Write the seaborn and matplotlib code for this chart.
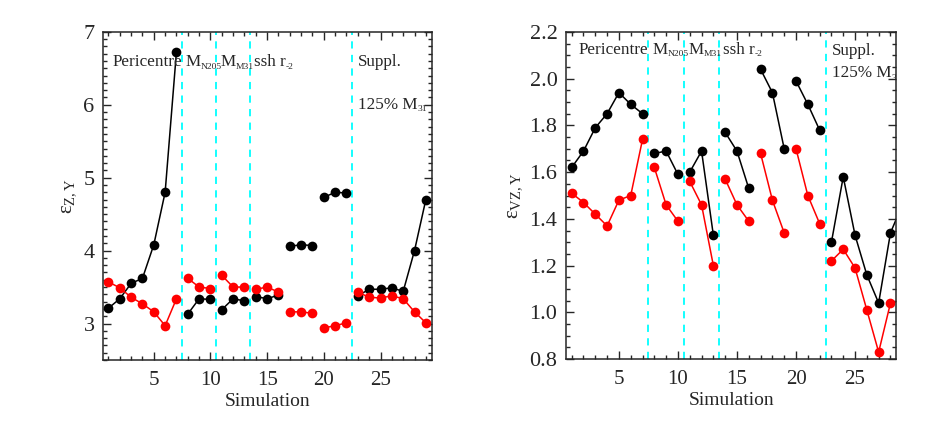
import numpy as np
import pandas as pd
import matplotlib
matplotlib.use("Agg")
import matplotlib.pyplot as plt
from matplotlib.ticker import MultipleLocator, FormatStrFormatter
import seaborn as sns

sns.set_style("ticks")
plt.rcParams["font.family"] = ["Liberation Serif", "DejaVu Serif"]
plt.rcParams["mathtext.fontset"] = "custom"
plt.rcParams["mathtext.rm"] = "Liberation Serif"
plt.rcParams["mathtext.it"] = "Liberation Serif:italic"

# simulation number and the run group each one belongs to
sims = list(range(1, 30))
groups = [1] * 7 + [2] * 3 + [3] * 3 + [4] * 3 + [5] * 3 + [6] * 3 + [7] * 7
group_edges = [7.5, 10.5, 13.5, 22.5]

# left panel: epsilon_Z,Y
eps_z_black = [3.21, 3.34, 3.55, 3.62, 4.08, 4.80, 6.73,
               3.13, 3.34, 3.33,
               3.19, 3.34, 3.31,
               3.37, 3.34, 3.39,
               4.06, 4.08, 4.07,
               4.73, 4.80, 4.79,
               3.38, 3.47, 3.47, 3.49, 3.44, 4.00, 4.70]
eps_z_red = [3.57, 3.49, 3.36, 3.27, 3.16, 2.97, 3.34,
             3.62, 3.50, 3.48,
             3.66, 3.50, 3.50,
             3.47, 3.50, 3.43,
             3.16, 3.16, 3.14,
             2.94, 2.97, 3.01,
             3.43, 3.36, 3.35, 3.38, 3.34, 3.16, 3.01]

# right panel: epsilon_VZ,Y
eps_vz_black = [1.62, 1.69, 1.79, 1.85, 1.94, 1.89, 1.85,
                1.68, 1.69, 1.59,
                1.60, 1.69, 1.33,
                1.77, 1.69, 1.53,
                2.04, 1.94, 1.70,
                1.99, 1.89, 1.78,
                1.30, 1.58, 1.33, 1.16, 1.04, 1.34, 1.46]
eps_vz_red = [1.51, 1.47, 1.42, 1.37, 1.48, 1.50, 1.74,
              1.62, 1.46, 1.39,
              1.56, 1.46, 1.20,
              1.57, 1.46, 1.39,
              1.68, 1.48, 1.34,
              1.70, 1.50, 1.38,
              1.22, 1.27, 1.19, 1.01, 0.83, 1.04, 1.05]

# group labels: (main text, subscript)
group_labels = [("Pericentre", ""), ("M", "N205"), ("M", "M31"), ("ssh r", "-2")]


def label(ax, x, y, main, sub, size=12.3):
    t = ax.text(x, y, main, fontsize=size, va="center", ha="left", clip_on=True)
    if sub:
        ax.annotate(sub, xy=(1, 0), xycoords=t, xytext=(0, 1.2),
                    textcoords="offset points", fontsize=6.8,
                    va="baseline", ha="left", annotation_clip=False, clip_on=True)


def draw_panel(ax, black, red, ylim, ymaj, ymin, yfmt, ylabel, xlim, lab_pos, supp_pos):
    df = pd.DataFrame({"sim": sims + sims, "val": black + red,
                       "grp": groups + groups,
                       "kind": ["black"] * len(sims) + ["red"] * len(sims)})
    for kind, col in [("black", "black"), ("red", "red")]:
        sns.lineplot(data=df[df["kind"] == kind], x="sim", y="val", units="grp",
                     estimator=None, color=col, marker="o", markersize=7,
                     markeredgewidth=0, linewidth=1.1, ax=ax, clip_on=True)
    for xe in group_edges:
        ax.axvline(xe, color="cyan", linestyle=(0, (4, 3.5)), linewidth=1.3, zorder=0)
    ax.set_xlim(*xlim)
    ax.set_ylim(*ylim)
    ax.xaxis.set_major_locator(MultipleLocator(5))
    ax.xaxis.set_minor_locator(MultipleLocator(1))
    ax.yaxis.set_major_locator(MultipleLocator(ymaj))
    ax.yaxis.set_minor_locator(MultipleLocator(ymin))
    ax.yaxis.set_major_formatter(FormatStrFormatter(yfmt))
    ax.tick_params(which="both", direction="in", top=True, right=True)
    ax.tick_params(which="major", length=6, width=1)
    ax.tick_params(which="minor", length=3, width=1)
    ax.tick_params(axis="x", labelsize=15, pad=8)
    ax.tick_params(axis="y", labelsize=16, pad=6)
    for s in ax.spines.values():
        s.set_linewidth(1.1)
    ax.set_xlabel("Simulation", fontsize=14, labelpad=2)
    ax.set_ylabel(ylabel, fontsize=15)
    for (main, sub), (x, y) in zip(group_labels, lab_pos):
        label(ax, x, y, main, sub)
    label(ax, supp_pos[0], supp_pos[1], "Suppl.", "")
    label(ax, supp_pos[0], supp_pos[2], "125% M", "31")


fig = plt.figure(figsize=(9.26, 4.25), dpi=100)
ax1 = fig.add_axes([0.111, 0.153, 0.355, 0.772])
ax2 = fig.add_axes([0.611, 0.155, 0.357, 0.770])

draw_panel(ax1, eps_z_black, eps_z_red, (2.5, 7), 1, 0.1, "%d",
           r"ε$_{\mathrm{Z,Y}}$", (0.5, 29.5),
           [(1.4, 6.58), (7.78, 6.58), (10.9, 6.58), (13.85, 6.58)],
           (23.03, 6.58, 6.0))
draw_panel(ax2, eps_vz_black, eps_vz_red, (0.8, 2.2), 0.2, 0.05, "%.1f",
           r"ε$_{\mathrm{VZ,Y}}$", (0.5, 28.5),
           [(1.54, 2.122), (7.85, 2.122), (10.92, 2.122), (13.82, 2.122)],
           (23.06, 2.119, 2.022))

fig.savefig("out.png", dpi=100)
